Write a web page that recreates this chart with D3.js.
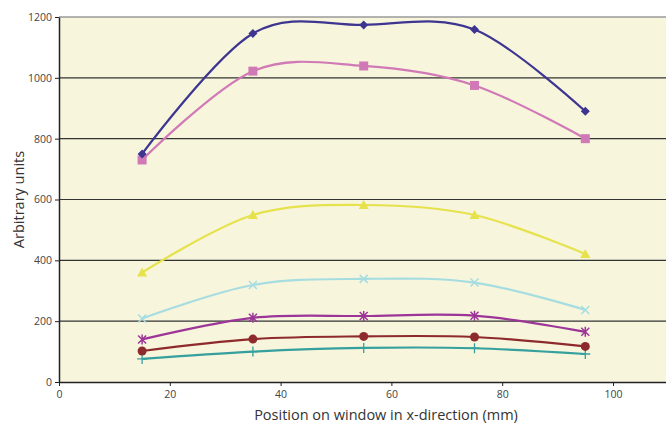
<!DOCTYPE html>
<html>
<head>
<meta charset="utf-8">
<script src="https://cdn.jsdelivr.net/npm/d3@7"></script>
<style>
  body { margin: 0; background: #fff; }
  svg { display: block; font-family: "Open Sans", "Noto Sans", sans-serif; }
</style>
</head>
<body>
<svg id="chart" width="666" height="425"></svg>
<script>
// x positions (mm) shared by all series
const positions = [15, 35, 55, 75, 95];

const seriesNavy   = [750, 1146, 1174, 1159, 890];
const seriesPink   = [730, 1022, 1039, 975, 800];
const seriesYellow = [360, 549, 582, 549, 421];
const seriesCyan   = [209, 319, 339, 327, 237];
const seriesPurple = [140, 211, 217, 218, 165];
const seriesRed    = [102, 141, 150, 148, 117];
const seriesTeal   = [76, 100, 112, 111, 92];

const xTicks = [0, 20, 40, 60, 80, 100];
const yTicks = [0, 200, 400, 600, 800, 1000, 1200];

const series = [
  {values: seriesNavy,   color: "#3d3590", marker: "diamond"},
  {values: seriesPink,   color: "#d079b6", marker: "square"},
  {values: seriesYellow, color: "#e6e24c", marker: "triangle"},
  {values: seriesCyan,   color: "#a6dde1", marker: "cross"},
  {values: seriesPurple, color: "#9c3597", marker: "star"},
  {values: seriesRed,    color: "#8e2a2c", marker: "circle"},
  {values: seriesTeal,   color: "#35a09d", marker: "plus"}
];

const svg = d3.select("#chart");
const plotLeft = 59, plotTop = 17, plotBottom = 382;

const x = d3.scaleLinear().domain([0, 110]).range([plotLeft, plotLeft + 5.54 * 110]);
const y = d3.scaleLinear().domain([0, 1200]).range([plotBottom, plotTop]);

// plot background
svg.append("rect")
  .attr("x", plotLeft).attr("y", plotTop)
  .attr("width", x(110) - plotLeft).attr("height", plotBottom - plotTop)
  .attr("fill", "#f7f5dc");

// gridlines
svg.append("g")
  .selectAll("line")
  .data(yTicks.filter(d => d > 0))
  .join("line")
    .attr("x1", plotLeft).attr("x2", x(110))
    .attr("y1", d => y(d)).attr("y2", d => y(d))
    .attr("stroke", d => d === 1200 ? "#9a9a9a" : "#333")
    .attr("stroke-width", d => d === 1200 ? 1.5 : 1.2);

// axes
const yAxis = svg.append("g")
  .attr("transform", `translate(${plotLeft},0)`)
  .call(d3.axisLeft(y).tickValues(yTicks).tickFormat(d3.format("d"))
    .tickSize(4).tickSizeOuter(0).tickPadding(3));
const xAxis = svg.append("g")
  .attr("transform", `translate(0,${plotBottom})`)
  .call(d3.axisBottom(x).tickValues(xTicks).tickFormat(d3.format("d"))
    .tickSize(4).tickSizeOuter(0).tickPadding(5));

[yAxis, xAxis].forEach(a => {
  a.select(".domain").attr("stroke", "#222").attr("stroke-width", 1.5);
  a.selectAll(".tick line").attr("stroke", "#222");
  a.selectAll("text").attr("fill", "#444").attr("font-size", 10.5)
    .attr("font-family", "\"Open Sans\", sans-serif");
});

// axis titles
svg.append("text")
  .attr("transform", `translate(24,${(plotTop + plotBottom) / 2}) rotate(-90)`)
  .attr("text-anchor", "middle")
  .attr("font-size", 14.5)
  .attr("fill", "#333")
  .text("Arbitrary units");

svg.append("text")
  .attr("x", 386).attr("y", 420)
  .attr("text-anchor", "middle")
  .attr("font-size", 14.5)
  .attr("fill", "#333")
  .text("Position on window in x-direction (mm)");

const line = d3.line()
  .x(d => x(d[0]))
  .y(d => y(d[1]))
  .curve(d3.curveCardinal.tension(0));

// draw from bottom series up so upper ones sit on top
series.slice().reverse().forEach(s => {
  const pts = positions.map((p, i) => [p, s.values[i]]);
  const g = svg.append("g");
  g.append("path")
    .attr("d", line(pts))
    .attr("fill", "none")
    .attr("stroke", s.color)
    .attr("stroke-width", 2.2);

  const m = g.selectAll("g.m")
    .data(pts)
    .join("g")
      .attr("transform", d => `translate(${x(d[0])},${y(d[1])})`);

  if (s.marker === "diamond") {
    m.append("path").attr("d", "M0,-4.5L4.5,0L0,4.5L-4.5,0Z").attr("fill", s.color);
  } else if (s.marker === "square") {
    m.append("rect").attr("x", -4.5).attr("y", -4.5).attr("width", 9).attr("height", 9).attr("fill", s.color);
  } else if (s.marker === "triangle") {
    m.append("path").attr("d", "M0,-5L5,4L-5,4Z").attr("fill", s.color);
  } else if (s.marker === "circle") {
    m.append("circle").attr("r", 4.5).attr("fill", s.color);
  } else if (s.marker === "cross") {
    m.append("path").attr("d", "M-4,-4L4,4M-4,4L4,-4")
      .attr("stroke", s.color).attr("stroke-width", 1.5);
  } else if (s.marker === "star") {
    m.append("path").attr("d", "M-4,-4L4,4M-4,4L4,-4M0,-5L0,5")
      .attr("stroke", s.color).attr("stroke-width", 1.5);
  } else if (s.marker === "plus") {
    m.append("path").attr("d", "M0,-5L0,5M-5,0L5,0")
      .attr("stroke", s.color).attr("stroke-width", 1.3);
  }
});
</script>
</body>
</html>
